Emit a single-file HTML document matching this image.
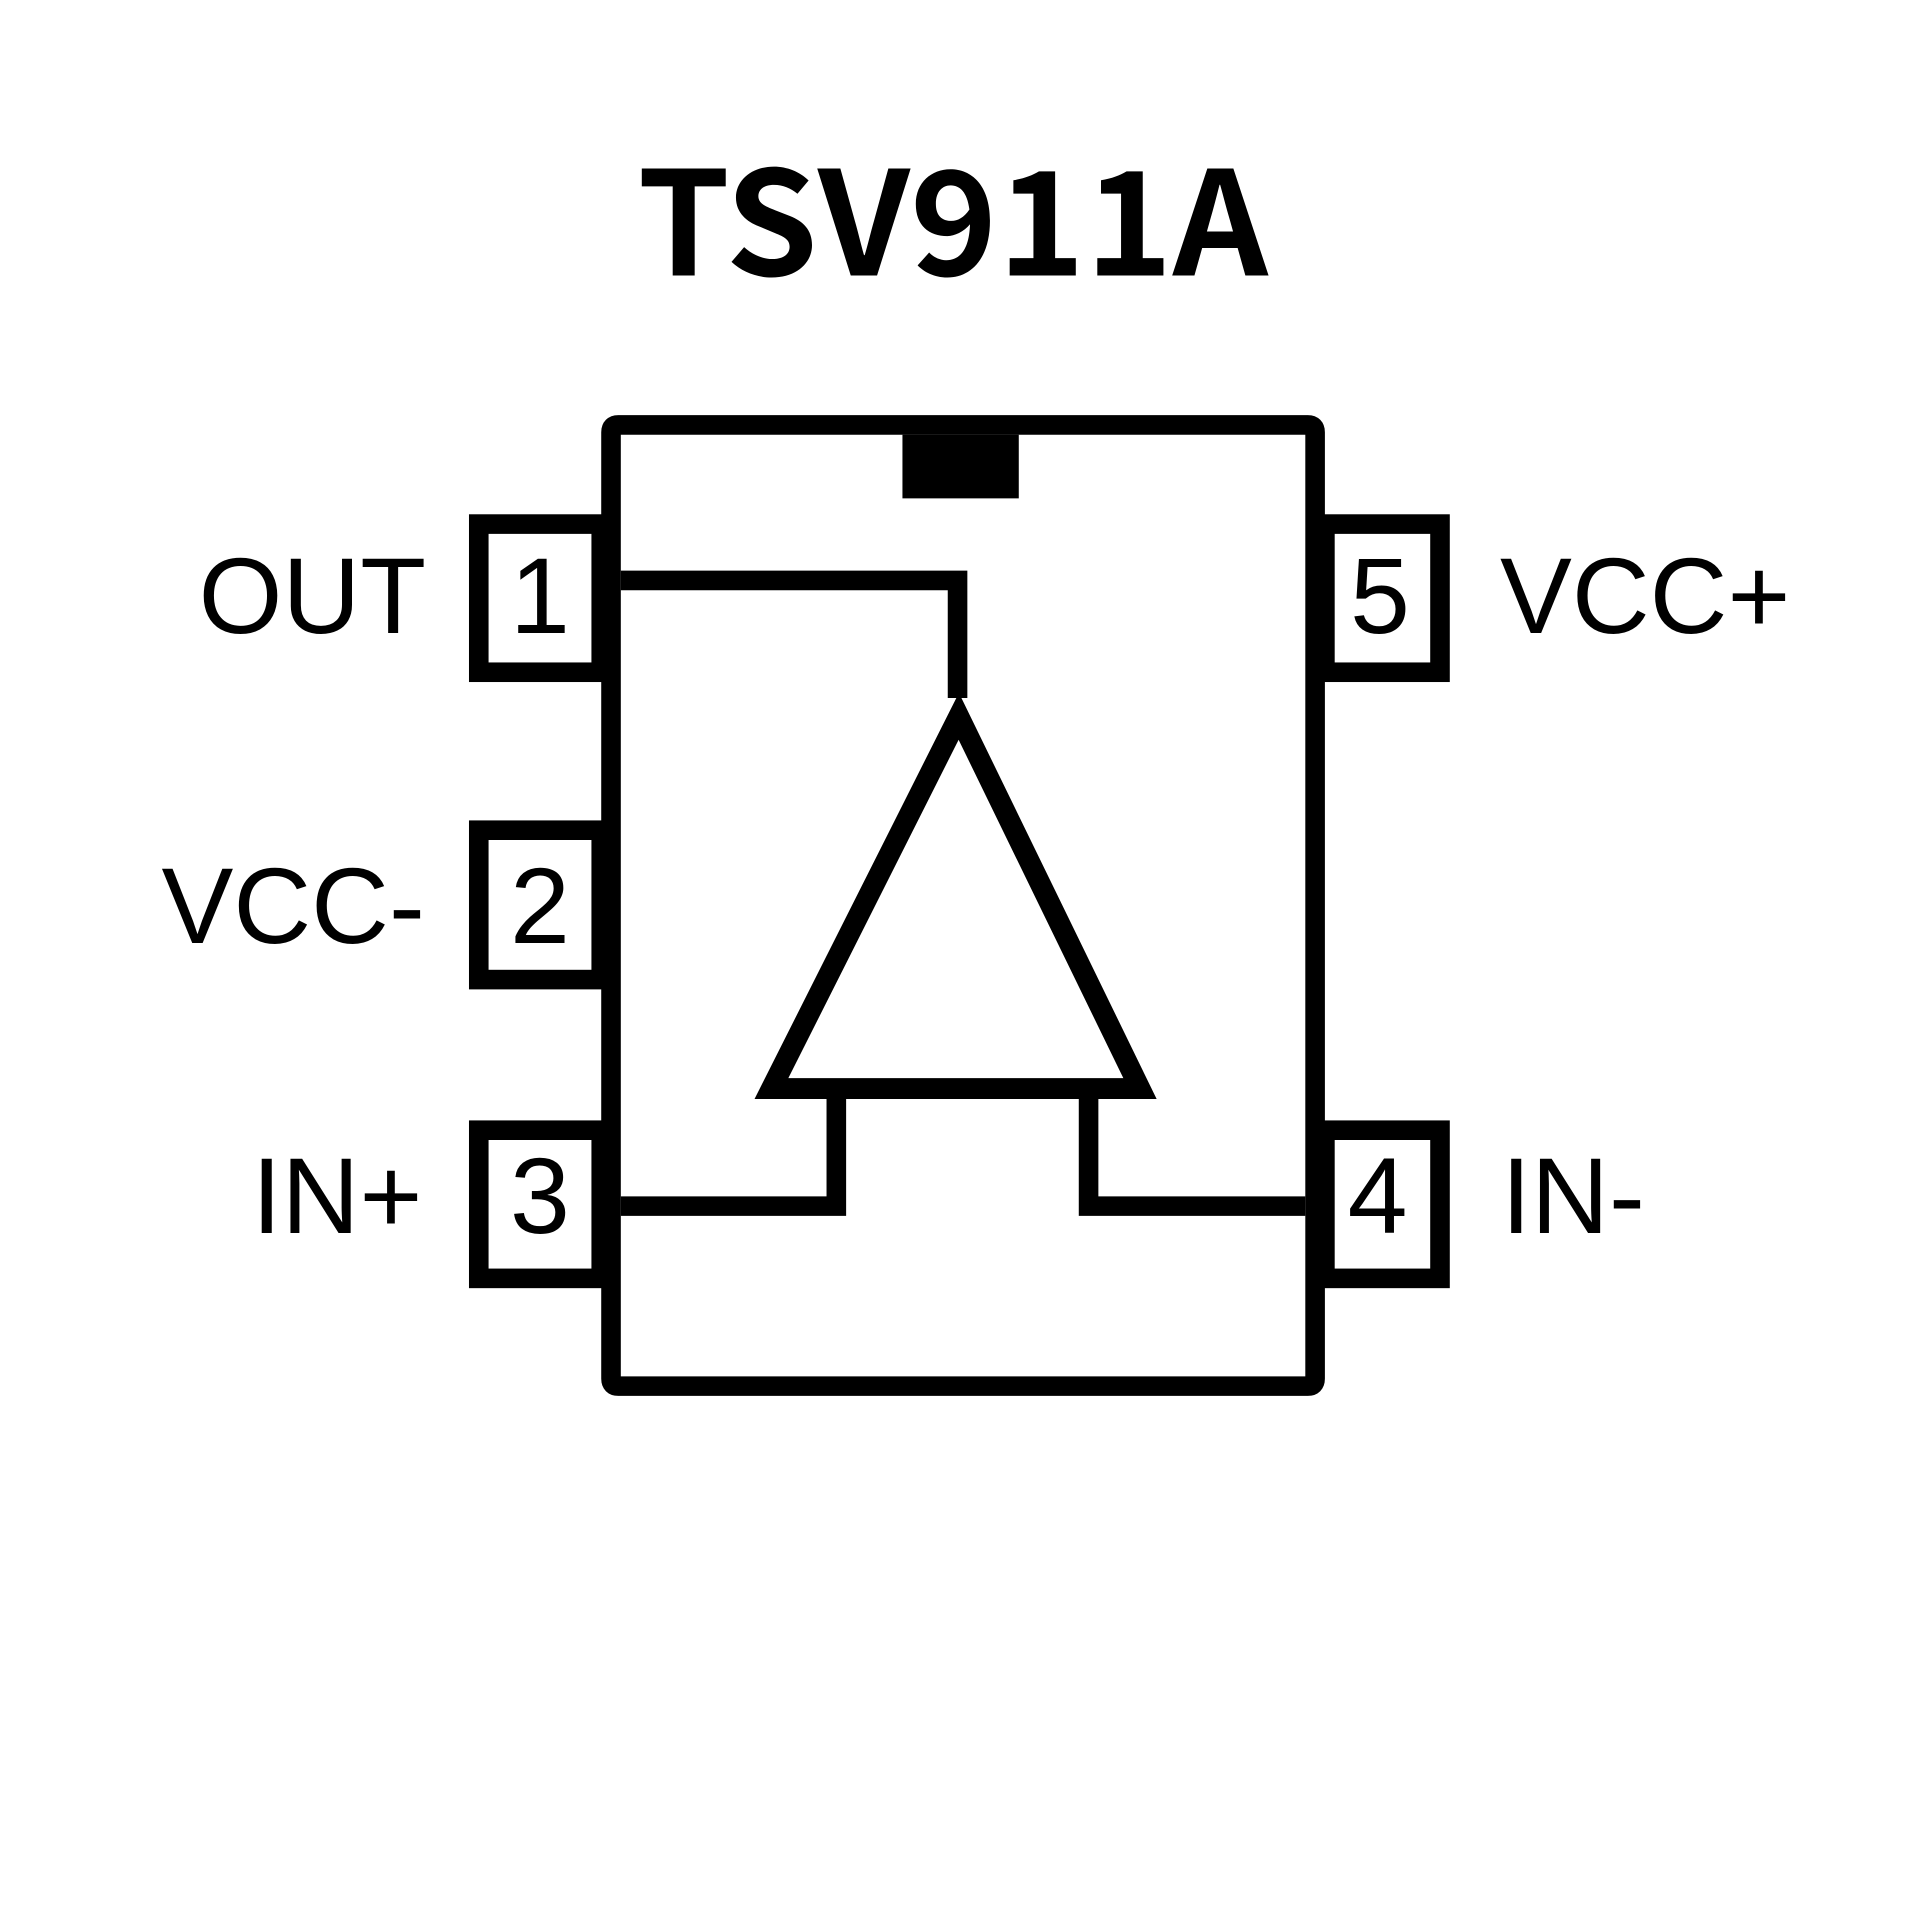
<!DOCTYPE html>
<html><head><style>html,body{margin:0;padding:0;background:#fff}svg{display:block}</style></head>
<body>
<svg width="1920" height="1920" viewBox="0 0 1568 1568" xmlns="http://www.w3.org/2000/svg">
<rect width="1568" height="1568" fill="#fff"/>
<text x="778" y="225" text-anchor="middle" font-family="'Noto Sans CJK SC','DejaVu Sans',sans-serif" font-weight="bold" font-size="118" textLength="515" lengthAdjust="spacingAndGlyphs">TSV911A</text>
<g fill="none" stroke="#000" stroke-width="16">
<rect x="391" y="428" width="100" height="121"/>
<rect x="391" y="678" width="100" height="122"/>
<rect x="391" y="923" width="100" height="121"/>
<rect x="1082" y="428" width="94" height="121"/>
<rect x="1082" y="923" width="94" height="121"/>
</g>
<rect x="499" y="355" width="567" height="767" fill="#fff"/>
<g fill="none" stroke="#000" stroke-width="16">
<path d="M505 347 L1068 347 Q1074 347 1074 353 L1074 1126 Q1074 1132 1068 1132 L505 1132 Q499 1132 499 1126 L499 353 Q499 347 505 347 Z"/>
</g>
<rect x="737" y="355" width="95" height="52" fill="#000"/>
<g fill="none" stroke="#000" stroke-width="16" stroke-linejoin="miter">
<polyline points="507,474 782,474 782,570"/>
<polygon points="783,585 630,889 931,889" stroke-width="17"/>
<polyline points="683,897 683,985 507,985"/>
<polyline points="889,897 889,985 1066,985"/>
</g>
<g font-family="'Liberation Sans',sans-serif" font-size="88" fill="#000">
<text x="348" y="517" text-anchor="end">OUT</text>
<text x="347" y="770" text-anchor="end">VCC-</text>
<text x="345" y="1007" text-anchor="end">IN+</text>
<text x="1225" y="517">VCC+</text>
<text x="1226" y="1007">IN-</text>
<text x="441" y="517" text-anchor="middle">1</text>
<text x="441" y="770" text-anchor="middle">2</text>
<text x="441" y="1007" text-anchor="middle">3</text>
<text x="1127" y="517" text-anchor="middle">5</text>
<text x="1125" y="1007" text-anchor="middle">4</text>
</g>
</svg>
</body></html>
